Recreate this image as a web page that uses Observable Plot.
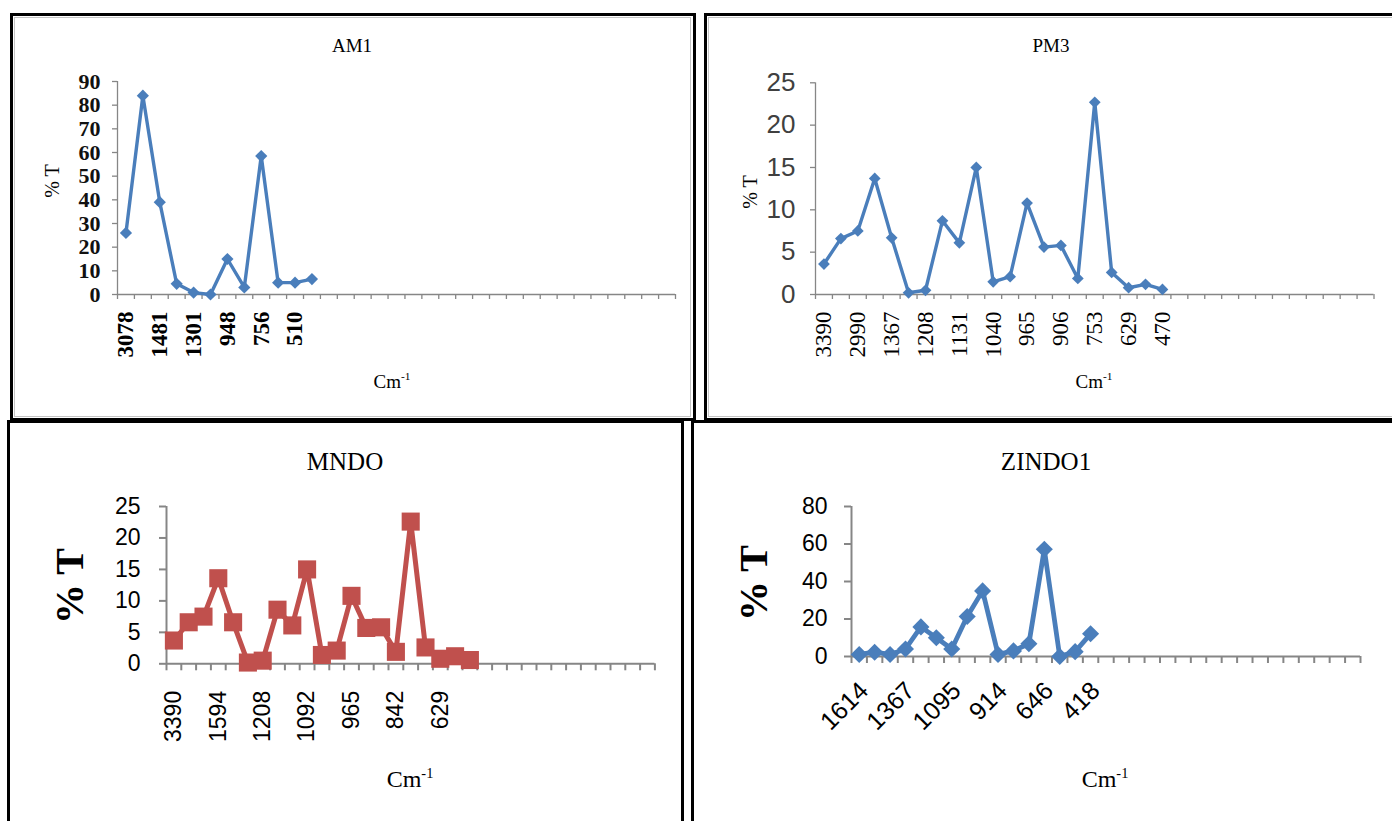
<!DOCTYPE html>
<html><head><meta charset="utf-8">
<script src="https://cdn.jsdelivr.net/npm/d3@7"></script>
<script src="https://cdn.jsdelivr.net/npm/@observablehq/plot@0.6"></script>
<style>
body{margin:0;background:#fff;}
#root{position:relative;width:1392px;height:821px;overflow:hidden;background:#fff;}
.frame{position:absolute;box-sizing:border-box;border:3px solid #000;}
.inner{position:absolute;box-sizing:border-box;border:1px solid #c4c4c4;}
.lbl{position:absolute;white-space:nowrap;color:#000;font-family:"Liberation Serif","Times New Roman",serif;line-height:1;transform:translate(-50%,-50%);}
.rot{transform:translate(-50%,-50%) rotate(-90deg);}
.lbl sup{font-size:0.6em;position:relative;top:-0.1em;vertical-align:top;line-height:1;}
.chart{position:absolute;max-width:none !important;}
</style></head><body><div id="root"></div>
<script>
// ---- data ----
const nCategories = 33;
const am1Labels = ["3078","","1481","","1301","","948","","756","","510",""];
const am1Values = [26,84,39,4.5,0.8,0,15,3,58.5,5,5,6.5];
const pm3Labels = ["3390","","2990","1594","1367","","1208","","1131","1092","1040","","965","","906","842","753","","629","","470"];
const pm3Values = [3.6,6.6,7.5,13.7,6.7,0.2,0.5,8.7,6.1,15.0,1.5,2.1,10.8,5.6,5.8,1.9,22.7,2.6,0.8,1.2,0.6];
const mndoLabels = pm3Labels;
const mndoValues = [3.7,6.6,7.5,13.6,6.6,0.2,0.5,8.6,6.1,15.0,1.4,2.1,10.8,5.7,5.8,1.9,22.6,2.6,0.8,1.2,0.6];
const zindoLabels = ["1614","","","1367","","","1095","","","914","","","646","","","418"];
const zindoValues = [1.1,2.3,1.1,4.0,15.8,10.0,4.0,21.3,35.0,1.1,3.0,6.8,57.2,0,2.6,12.1];
const titles = ["AM1","PM3","MNDO","ZINDO1"];
const yLabel = "% T";
const xLabel = "Cm";
const xLabelSup = "-1";

const root = document.getElementById("root");
const SERIF = '"Liberation Serif","Times New Roman",serif';
const SANS = '"Liberation Sans",Arial,sans-serif';

function box(cls, l, t, w, h) {
  const d = document.createElement("div");
  d.className = cls;
  Object.assign(d.style, {left: l + "px", top: t + "px", width: w + "px", height: h + "px"});
  root.appendChild(d);
}
function label(html, cx, cy, size, opts = {}) {
  const d = document.createElement("div");
  d.className = "lbl" + (opts.rot ? " rot" : "");
  d.innerHTML = html;
  Object.assign(d.style, {left: cx + "px", top: cy + "px", fontSize: size + "px", fontWeight: opts.bold ? "bold" : "normal"});
  root.appendChild(d);
}

function chart(c) {
  const data = c.values.map((v, i) => ({i, v}));
  const labelTicks = d3.range(0, c.labels.length, c.labelStep).map(i => i + 0.5);
  const svg = Plot.plot({
    width: c.width, height: c.height,
    marginLeft: c.x0 - c.left, marginRight: c.left + c.width - c.x1,
    marginTop: c.yTop - c.top, marginBottom: c.top + c.height - c.yZero,
    x: {domain: [0, nCategories]},
    y: {domain: [0, c.yMax]},
    style: {background: "transparent", overflow: "visible"},
    marks: [
      Plot.axisY({ticks: d3.range(0, c.yMax + 1e-9, c.yStep), tickSize: c.tickLen, tickPadding: c.yPad,
        stroke: "#868686", strokeWidth: c.axisWidth, fill: c.yColor, label: null,
        fontSize: c.yFont, fontFamily: c.yFamily, fontWeight: c.yWeight}),
      Plot.axisX({ticks: d3.range(0, nCategories + 1), tickSize: c.tickLen, tickFormat: () => "",
        stroke: "#868686", strokeWidth: c.axisWidth, label: null}),
      Plot.axisX({ticks: labelTicks, tickSize: 0, tickPadding: c.xPad, tickRotate: c.xRotate, dx: c.xDx || 0,
        tickFormat: t => c.labels[Math.round(t - 0.5)], fill: "#000", label: null,
        fontSize: c.xFont, fontFamily: c.xFamily, fontWeight: c.xWeight}),
      Plot.ruleX([0], {y1: 0, y2: c.yMax, stroke: "#868686", strokeWidth: c.axisWidth}),
      Plot.ruleY([0], {x1: 0, x2: nCategories, stroke: "#868686", strokeWidth: c.axisWidth}),
      Plot.line(data, {x: d => d.i + 0.5, y: "v", stroke: c.color, strokeWidth: c.lineWidth}),
      Plot.dot(data, {x: d => d.i + 0.5, y: "v", symbol: c.symbol, r: c.r, fill: c.color, stroke: "none"})
    ]
  });
  svg.classList.add("chart");
  svg.style.left = c.left + "px";
  svg.style.top = c.top + "px";
  svg.style.position = "absolute";
  root.appendChild(svg);
}

const DIAMOND = d3.symbolDiamond2 || "diamond";
const BLUE = "#4a7ebb", RED = "#c0504d";

// frames
box("frame", 10, 13, 686, 408);
box("inner", 14, 17, 677, 400);
box("frame", 704, 13, 700, 408);
box("inner", 708, 17, 700, 400);
box("frame", 7, 420, 677, 410);
box("frame", 691, 420, 720, 410);

// AM1
chart({left: 14, top: 17, width: 676, height: 399, x0: 117, x1: 675, yTop: 81, yZero: 294,
  yMax: 90, yStep: 10, values: am1Values, labels: am1Labels, labelStep: 2,
  tickLen: 5, yPad: 12, xPad: 17, xRotate: -90, axisWidth: 1.3,
  yFont: 22, yFamily: SERIF, yWeight: "bold", yColor: "#111",
  xFont: 23, xFamily: SERIF, xWeight: "bold",
  color: BLUE, lineWidth: 3.4, symbol: DIAMOND, r: 5.5});
label(titles[0], 352, 45, 19);
label(yLabel, 52, 181, 20, {rot: true});
label(xLabel + "<sup>" + xLabelSup + "</sup>", 392, 381, 19);

// PM3
chart({left: 708, top: 17, width: 684, height: 399, x0: 815, x1: 1373.5, yTop: 82.3, yZero: 294,
  yMax: 25, yStep: 5, values: pm3Values, labels: pm3Labels, labelStep: 2,
  tickLen: 5, yPad: 15, xPad: 17, xRotate: -90, axisWidth: 1.3,
  yFont: 26, yFamily: SANS, yWeight: "normal", yColor: "#404040",
  xFont: 23, xFamily: SERIF, xWeight: "normal",
  color: BLUE, lineWidth: 3.4, symbol: DIAMOND, r: 5.3});
label(titles[1], 1051, 45, 19);
label(yLabel, 750, 192, 20, {rot: true});
label(xLabel + "<sup>" + xLabelSup + "</sup>", 1094, 381, 19);

// MNDO
chart({left: 10, top: 423, width: 671, height: 398, x0: 166, x1: 654.4, yTop: 506, yZero: 663.3,
  yMax: 25, yStep: 5, values: mndoValues, labels: mndoLabels, labelStep: 3,
  tickLen: 7, yPad: 19, xPad: 27, xRotate: -90, axisWidth: 2,
  yFont: 23, yFamily: SANS, yWeight: "normal", yColor: "#000",
  xFont: 23, xFamily: SANS, xWeight: "normal",
  color: RED, lineWidth: 5, symbol: d3.symbolSquare, r: 10.2});
label(titles[2], 345, 461, 25);
label(yLabel, 70, 586, 40, {rot: true, bold: true});
label(xLabel + "<sup>" + xLabelSup + "</sup>", 410, 779, 24);

// ZINDO1
chart({left: 694, top: 423, width: 698, height: 398, x0: 851, x1: 1360, yTop: 506, yZero: 656,
  yMax: 80, yStep: 20, values: zindoValues, labels: zindoLabels, labelStep: 3,
  tickLen: 7, yPad: 17, xPad: 30, xDx: 5, xRotate: -45, axisWidth: 2,
  yFont: 23, yFamily: SANS, yWeight: "normal", yColor: "#000",
  xFont: 25, xFamily: SANS, xWeight: "normal",
  color: BLUE, lineWidth: 4.8, symbol: DIAMOND, r: 7.7});
label(titles[3], 1046, 461, 25);
label(yLabel, 754, 583, 40, {rot: true, bold: true});
label(xLabel + "<sup>" + xLabelSup + "</sup>", 1105, 779, 24);
</script>
</body></html>
